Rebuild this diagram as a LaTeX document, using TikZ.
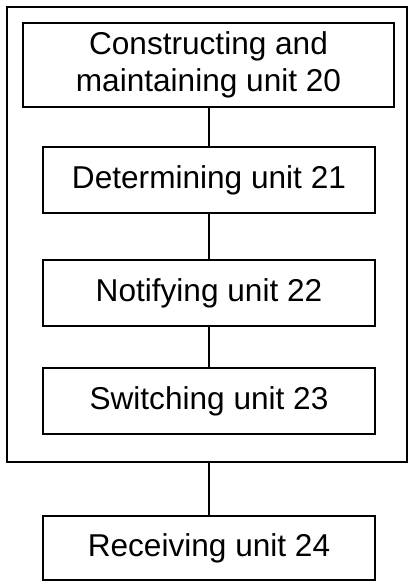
\documentclass[tikz,border=0pt]{standalone}
\usepackage{fontspec}
\setmainfont{Liberation Sans}
\begin{document}
\begin{tikzpicture}[x=1pt,y=-1pt,
  unitbox/.style={draw, line width=1.6pt, inner sep=0pt, align=center,
    minimum width=332pt, minimum height=66pt,
    font=\fontsize{31.6}{37}\selectfont},
  frame/.style={draw, line width=1.6pt, inner sep=0pt},
  link/.style={line width=1.6pt}]
\useasboundingbox (0,0) rectangle (410,582);
\node[frame, minimum width=400pt, minimum height=455pt] (outer) at (207,234.5) {};
\node[unitbox, minimum width=371pt, minimum height=84pt] (b20) at (208.5,65) {Constructing and\\maintaining unit 20};
\node[unitbox] (b21) at (209,180) {Determining unit 21};
\node[unitbox] (b22) at (209,293) {Notifying unit 22};
\node[unitbox] (b23) at (209,401) {Switching unit 23};
\node[unitbox, minimum height=64pt] (b24) at (209,548) {Receiving unit 24};
\draw[link] (b21.north |- b20.south) -- (b21.north);
\draw[link] (b21.south) -- (b22.north);
\draw[link] (b22.south) -- (b23.north);
\draw[link] (b24.north |- outer.south) -- (b24.north);
\end{tikzpicture}
\end{document}
